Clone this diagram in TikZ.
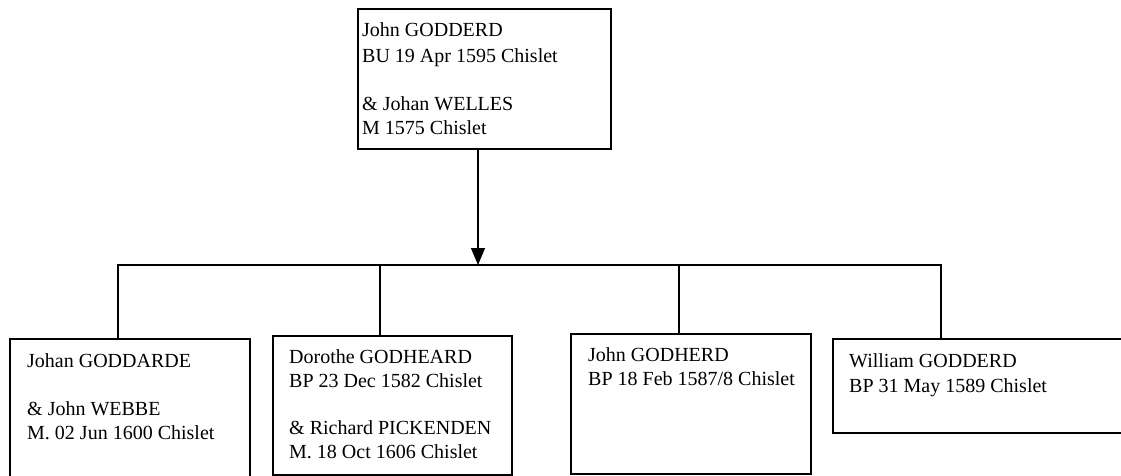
\documentclass[tikz,border=0pt]{standalone}
\usepackage{fontspec}
\setmainfont{Liberation Serif}
\usetikzlibrary{arrows.meta}
\begin{document}
\begin{tikzpicture}[x=1pt,y=-1pt,
  box/.style={draw,line width=1.6pt,rectangle,anchor=north west,inner sep=0pt},
  txt/.style={anchor=base west,inner sep=0pt,font=\fontsize{20}{24}\selectfont},
  link/.style={line width=1.3pt}]
\useasboundingbox (0,0) rectangle (1121,475);
\clip (0,0) rectangle (1121,475);
% boxes
\node[box,minimum width=253pt,minimum height=140pt] (top) at (357,8) {};
\node[box,minimum width=240pt,minimum height=170pt] (c1) at (9,338) {};
\node[box,minimum width=239pt,minimum height=139pt] (c2) at (272,335) {};
\node[box,minimum width=240pt,minimum height=140pt] (c3) at (570,333) {};
\node[box,minimum width=320pt,minimum height=94pt] (c4) at (832,338) {};
% texts
\node[txt] (t1) at (362,36) {John GODDERD};
\node[txt] (t2) at (362,62) {BU 19 Apr 1595 Chislet};
\node[txt] (t3) at (362,110) {\& Johan WELLES};
\node[txt] (t4) at (362,134) {M 1575 Chislet};
\node[txt] (a1) at (27,367) {Johan GODDARDE};
\node[txt] (a2) at (27,415) {\& John WEBBE};
\node[txt] (a3) at (27,439) {M. 02 Jun 1600 Chislet};
\node[txt] (b1) at (289,363) {Dorothe GODHEARD};
\node[txt] (b2) at (289,387) {BP 23 Dec 1582 Chislet};
\node[txt] (b3) at (289,434) {\& Richard PICKENDEN};
\node[txt] (b4) at (289,458) {M. 18 Oct 1606 Chislet};
\node[txt] (e1) at (588,361) {John GODHERD};
\node[txt] (e2) at (588,385) {BP 18 Feb 1587/8 Chislet};
\node[txt] (f1) at (849,367) {William GODDERD};
\node[txt] (f2) at (849,392) {BP 31 May 1589 Chislet};
% connectors
\coordinate (j) at (478,265);
\coordinate (d1) at (118,265);
\coordinate (d2) at (380,265);
\coordinate (d3) at (679,265);
\coordinate (d4) at (941,265);
\draw[link,-{Triangle[width=14pt,length=17pt]}] (top.south -| j) -- (j);
\draw[link] (d1 |- c1.north) -- (d1) -- (d4) -- (d4 |- c4.north);
\draw[link] (d2) -- (d2 |- c2.north);
\draw[link] (d3) -- (d3 |- c3.north);
\end{tikzpicture}
\end{document}
